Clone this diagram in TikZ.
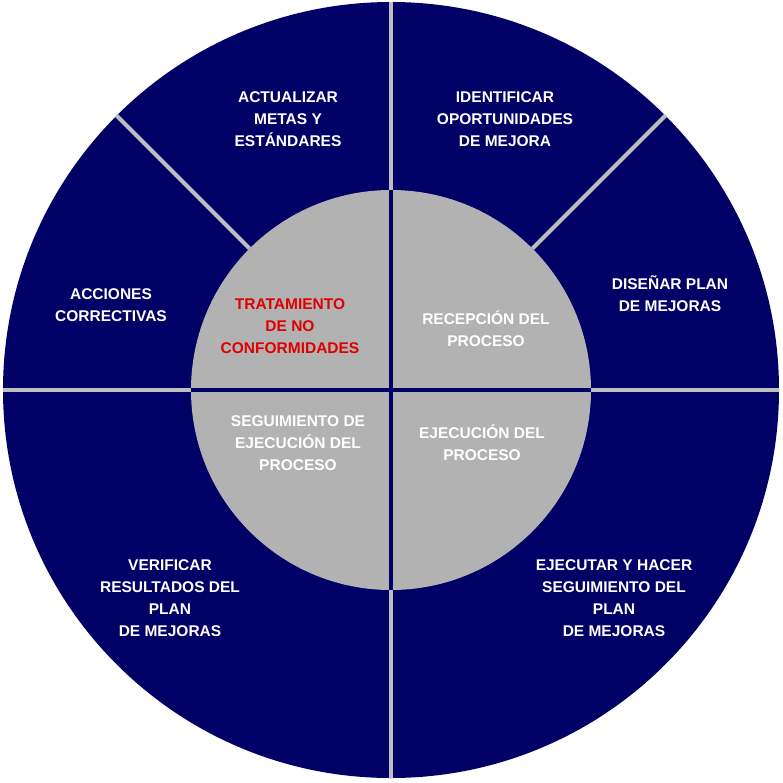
\documentclass[tikz,border=0pt]{standalone}
\usepackage{fontspec}
\setmainfont{Liberation Sans}
\definecolor{navy}{RGB}{0,0,102}
\definecolor{sep}{RGB}{190,190,190}
\definecolor{core}{RGB}{178,178,178}
\definecolor{alert}{RGB}{224,0,0}
\tikzset{
  lbl/.style={align=center,text=white,font=\fontsize{15.5}{22}\selectfont\bfseries},
  redlbl/.style={lbl,text=alert}
}
\begin{document}
\begin{tikzpicture}[x=1pt,y=-1pt]
\useasboundingbox (0,0) rectangle (783,782);
\coordinate (c) at (391,390);
% outer ring and inner disc
\fill[navy] (c) circle (388);
\draw[sep,line width=4] (c) ++(0,-388) -- ++(0,776);
\draw[sep,line width=4] (c) ++(-388,0) -- ++(776,0);
\draw[sep,line width=4] (c) ++(135:-200) -- ++(135:-188);
\draw[sep,line width=4] (c) ++(45:-200) -- ++(45:-188);
\fill[core] (c) circle (200);
\draw[navy,line width=4] (c) ++(0,-200) -- ++(0,400);
\draw[navy,line width=4] (c) ++(-200,0) -- ++(400,0);
% labels
\node[lbl] (metas) at (288,119) {ACTUALIZAR\\METAS Y\\ESTÁNDARES};
\node[lbl] (oport) at (505,119) {IDENTIFICAR\\OPORTUNIDADES\\DE MEJORA};
\node[lbl] (acc) at (111,305) {ACCIONES\\CORRECTIVAS};
\node[lbl] (disen) at (670,294) {DISEÑAR PLAN\\DE MEJORAS};
\node[redlbl] (trat) at (290,326) {TRATAMIENTO\\DE NO\\CONFORMIDADES};
\node[lbl] (recep) at (486,329) {RECEPCIÓN DEL\\PROCESO};
\node[lbl] (segui) at (298,443) {SEGUIMIENTO DE\\EJECUCIÓN DEL\\PROCESO};
\node[lbl] (ejec) at (482,443) {EJECUCIÓN DEL\\PROCESO};
\node[lbl] (verif) at (170,598) {VERIFICAR\\RESULTADOS DEL\\PLAN\\DE MEJORAS};
\node[lbl] (hacer) at (614,598) {EJECUTAR Y HACER\\SEGUIMIENTO DEL\\PLAN\\DE MEJORAS};
\end{tikzpicture}
\end{document}
